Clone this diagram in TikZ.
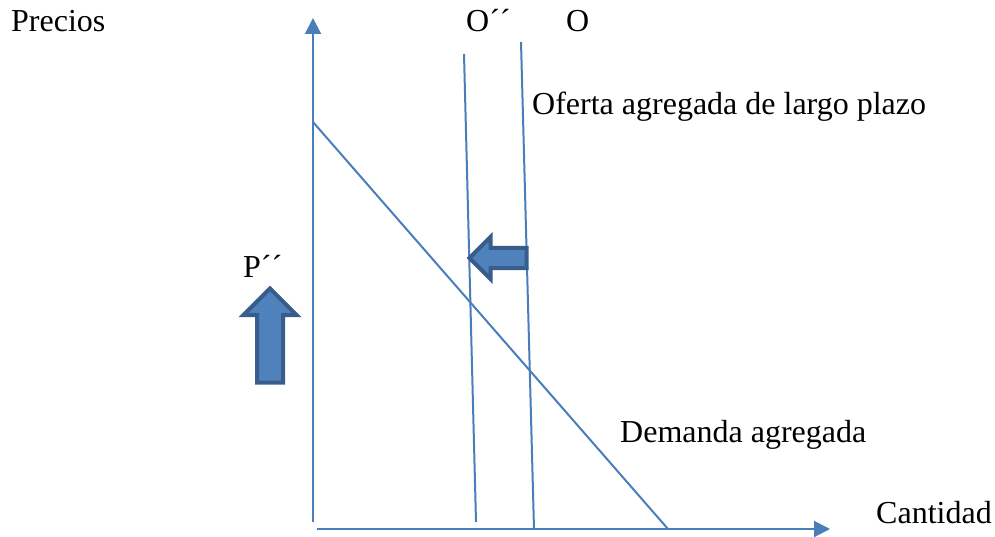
\documentclass[tikz,border=0pt]{standalone}
\usepackage{fontspec}
\setmainfont{Liberation Serif}
\usetikzlibrary{arrows.meta,shapes.arrows}
\definecolor{linea}{HTML}{4A7EBB}
\definecolor{relleno}{HTML}{4F81BD}
\definecolor{borde}{HTML}{385D8A}

\begin{document}
\begin{tikzpicture}[x=1pt,y=-1pt]
  \useasboundingbox (0,0) rectangle (995,537);

  % ejes y curvas
  \coordinate (ejey0) at (313,522);
  \coordinate (ejey1) at (313,18);
  \coordinate (ejex0) at (317,529);
  \coordinate (ejex1) at (830,529);
  \coordinate (dem0)  at (313,122);
  \coordinate (dem1)  at (668,529);
  \coordinate (of20)  at (464,54);
  \coordinate (of21)  at (476,522);
  \coordinate (of10)  at (521,42);
  \coordinate (of11)  at (534,529);

  \begin{scope}[every edge/.style={draw=linea,line width=2pt}]
    \path (ejey0) edge[-{Triangle[length=16pt,width=16pt]}] (ejey1);
    \path (ejex0) edge[-{Triangle[length=16pt,width=16pt]}] (ejex1);
    \path (dem0)  edge (dem1);
    \path (of20)  edge (of21);
    \path (of10)  edge (of11);
  \end{scope}

  % flechas de bloque
  \begin{scope}[every node/.style={single arrow,draw=borde,fill=relleno,
      line width=4pt,inner xsep=0pt}]
    \node[rotate=90,inner ysep=11pt,single arrow head extend=13.5pt,
      minimum height=94pt] (subida) at (270,342) {};
    \node[rotate=180,inner ysep=8pt,single arrow head extend=11pt,
      minimum height=57pt] (izquierda) at (503,258) {};
  \end{scope}

  % textos
  \begin{scope}[every node/.style={font=\fontsize{32}{38}\selectfont,
      inner sep=0pt,anchor=base west}]
    \node (precios)  at (11,32)   {Precios};
    \node (oprima)   at (466,32)  {O´´};
    \node (oletra)   at (566,32)  {O};
    \node (oferta)   at (532,115) {Oferta agregada de largo plazo};
    \node (pprima)   at (243,277) {P´´};
    \node (demanda)  at (620,442) {Demanda agregada};
    \node (cantidad) at (876,523) {Cantidad};
  \end{scope}

\end{tikzpicture}
\end{document}
